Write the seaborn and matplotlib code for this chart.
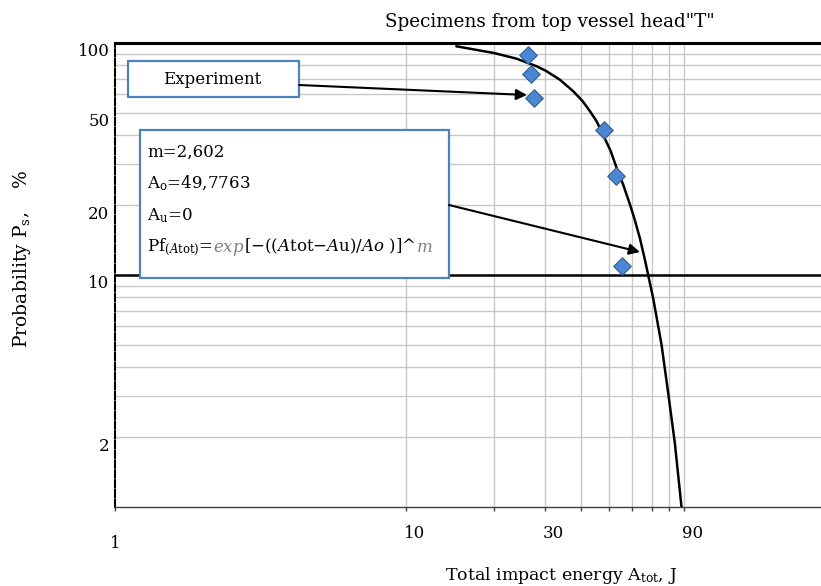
import numpy as np
import pandas as pd
import matplotlib
matplotlib.use('Agg')
import matplotlib.pyplot as plt
import matplotlib.transforms as mtransforms
from matplotlib.patches import Rectangle, FancyArrowPatch
from matplotlib.ticker import NullFormatter, NullLocator
import seaborn as sns

# Valeurs
exp_energy = [26.2, 26.9, 27.6, 48.0, 52.7, 55.1]
exp_prob = [89.1, 73.4, 57.8, 42.2, 26.6, 10.9]

fit_energy = [14.9, 20.1, 24.0, 28.1, 30.2, 33.8, 37.6, 40.5, 42.9, 45.2,
              47.6, 50.6, 53.0, 55.8, 58.9, 60.9, 63.7, 66.3, 68.0, 70.8,
              75.6, 79.7, 84.0, 88.6]
fit_prob = [96.8, 90.5, 85.6, 79.4, 76.0, 69.5, 61.9, 56.1, 50.8, 46.0,
            40.2, 34.1, 28.9, 24.5, 20.1, 17.6, 14.4, 11.6, 10.0, 7.9,
            5.0, 3.09, 1.88, 0.99]

x_grid = [10, 20, 30, 40, 50, 60, 70, 80, 90]
y_grid = [2, 3, 4, 5, 6, 7, 8, 9, 20, 30, 40, 50, 60, 70, 80, 90]
x_ticks = [1, 10, 30, 90]
y_ticks = [2, 10, 20, 50, 100]

param_lines = ["m=2,602", r"A$_\mathrm{o}$=49,7763", r"A$_\mathrm{u}$=0"]
formula_parts = [(r"Pf$_{(\mathit{A}\mathrm{tot})}$=", 'black'),
                 (r"$\mathit{exp}$", '#7f7f7f'),
                 (r"[$-$(($\mathit{A}$tot$-$$\mathit{A}$u)/$\mathit{Ao}$ )]^", 'black'),
                 (r"$\mathit{m}$", '#7f7f7f')]

W, H = 821, 586
def fx(x):
    return x / W
def fy(y):
    return 1 - y / H

sns.set_style('white')
plt.rcParams['font.family'] = ['DejaVu Serif']
plt.rcParams['mathtext.fontset'] = 'dejavuserif'
plt.rcParams['text.color'] = 'black'
plt.rcParams['xtick.labelcolor'] = 'black'
plt.rcParams['ytick.labelcolor'] = 'black'
FS = 12

fig = plt.figure(figsize=(W / 100, H / 100), dpi=100)
ax = fig.add_axes([fx(115), fy(507), (821 - 115) / W, (507 - 43) / H])
ax.set_xscale('log')
ax.set_yscale('log')
ax.set_xlim(1, 267)
ax.set_ylim(1, 100)

# grille
for v in x_grid:
    ax.axvline(v, color='#c8c8c8', lw=1.0, zorder=0)
for v in y_grid:
    ax.axhline(v, color='#c8c8c8', lw=1.0, zorder=0)
ax.axhline(10, color='black', lw=1.8, zorder=1)

df_fit = pd.DataFrame({'energy': fit_energy, 'prob': fit_prob})
sns.lineplot(data=df_fit, x='energy', y='prob', color='black', lw=1.8,
             sort=False, estimator=None, ax=ax, zorder=3)

df_exp = pd.DataFrame({'energy': exp_energy, 'prob': exp_prob})
sns.scatterplot(data=df_exp, x='energy', y='prob', marker='D', s=80,
                color='#4a86d4', edgecolor='#385d8a', linewidth=0.8,
                ax=ax, zorder=4, clip_on=False)

ax.set_xlabel('')
ax.set_ylabel('')

# axes / ticks
ax.set_xticks(x_ticks)
ax.set_xticklabels([str(t) for t in x_ticks])
ax.set_xticks([20, 40, 50, 60, 70, 80], minor=True)
ax.xaxis.set_minor_formatter(NullFormatter())
ax.set_yticks(y_ticks)
ax.set_yticklabels([str(t) for t in y_ticks])
ax.yaxis.set_minor_locator(NullLocator())
ax.tick_params(axis='x', which='both', direction='out', length=3, width=1,
               color='#404040', pad=10, labelsize=FS, bottom=True,
               labelcolor='black')
ax.tick_params(axis='y', which='both', length=0, pad=4, labelsize=FS,
               labelcolor='black')

for lab in ax.get_xticklabels():
    if lab.get_text() == '1':
        off = mtransforms.ScaledTranslation(0, -10 / 100, fig.dpi_scale_trans)
    else:
        off = mtransforms.ScaledTranslation(9 / 100, 0, fig.dpi_scale_trans)
    lab.set_transform(lab.get_transform() + off)
for lab in ax.get_yticklabels():
    off = mtransforms.ScaledTranslation(0, -7 / 100, fig.dpi_scale_trans)
    lab.set_transform(lab.get_transform() + off)

ax.spines['right'].set_visible(False)
ax.spines['top'].set_linewidth(2.2)
ax.spines['top'].set_color('black')
ax.spines['left'].set_color('black')
ax.spines['left'].set_linewidth(1.5)
ax.spines['left'].set_linestyle((0, (3.5, 1.2)))
ax.spines['bottom'].set_color('#404040')
ax.spines['bottom'].set_linewidth(1.0)

# textes
fig.text(fx(550), fy(22), 'Specimens from top vessel head"T"', ha='center',
         va='center', fontsize=13.2)
fig.text(fx(22), fy(259), r'Probability P$_\mathrm{s}$,    %', rotation=90,
         ha='center', va='center', fontsize=13.5)
fig.text(fx(561), fy(576), r'Total impact energy A$_\mathrm{tot}$, J',
         ha='center', va='center', fontsize=12.5)

# boite "Experiment"
box_col = '#4f81bd'
fig.add_artist(Rectangle((fx(128), fy(97)), (299 - 128) / W, (97 - 61) / H,
                         transform=fig.transFigure, facecolor='white',
                         edgecolor=box_col, lw=1.6, zorder=5))
fig.text(fx(212), fy(80), 'Experiment', ha='center', va='center',
         fontsize=FS, zorder=6)

# boite parametres
fig.add_artist(Rectangle((fx(140), fy(278)), (449 - 140) / W, (278 - 130) / H,
                         transform=fig.transFigure, facecolor='white',
                         edgecolor=box_col, lw=1.6, zorder=5))
baselines = [156.5, 188.5, 220, 251.5]
for line, yb in zip(param_lines, baselines):
    fig.text(fx(147), fy(yb), line, ha='left', va='baseline', fontsize=FS,
             zorder=6)
renderer = fig.canvas.get_renderer()
xpos = 147
for part, col in formula_parts:
    t = fig.text(fx(xpos), fy(baselines[3]), part, ha='left', va='baseline',
                 fontsize=FS, color=col, zorder=6)
    xpos = t.get_window_extent(renderer).x1

# fleches
for start, end in [((299, 85), (527, 95)), ((449, 205), (640, 252))]:
    fig.add_artist(FancyArrowPatch((fx(start[0]), fy(start[1])),
                                   (fx(end[0]), fy(end[1])),
                                   transform=fig.transFigure,
                                   arrowstyle='-|>', mutation_scale=16,
                                   lw=1.5, color='black', shrinkA=0,
                                   shrinkB=0, zorder=7))

plt.savefig('out.png', dpi=100)
